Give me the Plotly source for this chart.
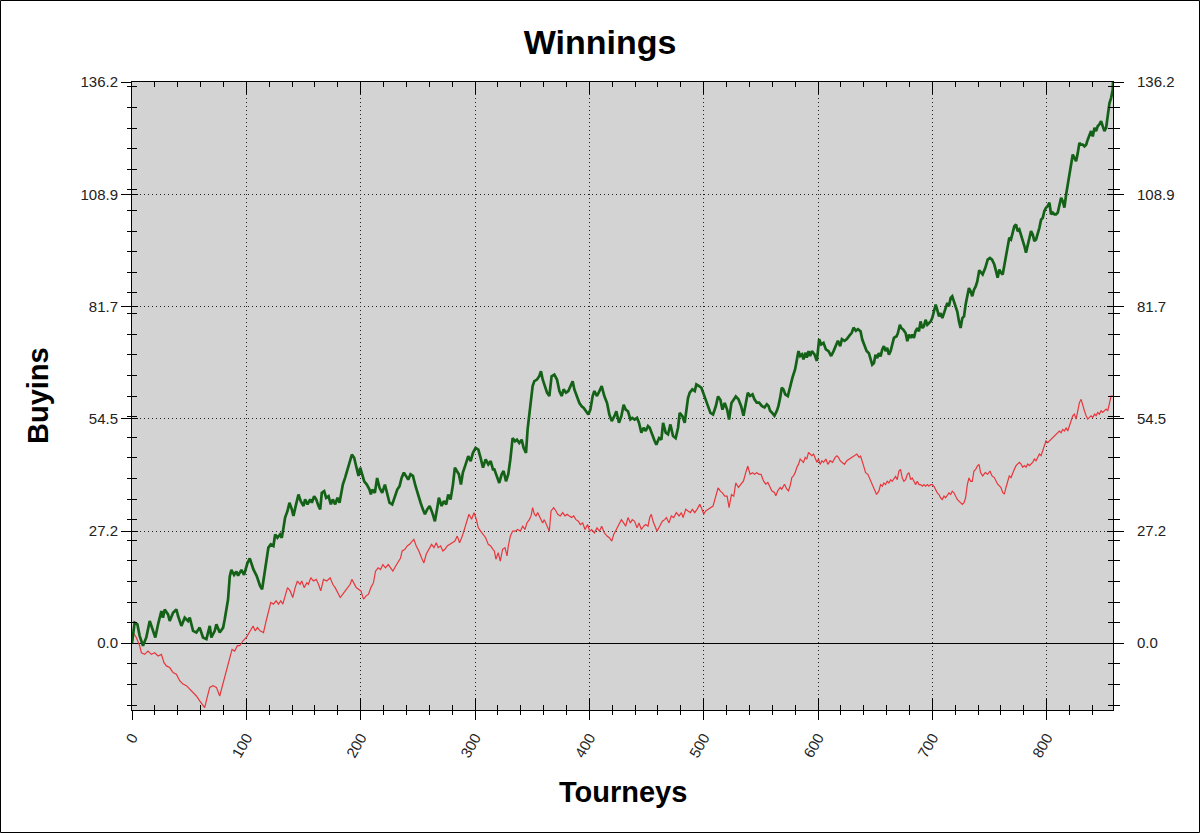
import plotly.graph_objects as go

# Cumulative winnings (buyins), by tourney number
green_t = [0, 0.9, 2.3, 4.7, 6.7, 9.6, 12.5, 15.5, 18.4, 20.4, 22.8, 25.7, 27.1, 28.6, 31.5, 33.0, 35.9, 38.8, 40.3, 43.2,
           46.1, 49.0, 50.5, 53.4, 56.3, 59.2, 62.1, 65.1, 68.0, 69.4, 72.4, 73.8, 76.7, 79.7, 81.1, 84.0, 85.5, 86.9, 89.3, 91.3,
           92.8, 95.7, 98.0, 100.9, 103.0, 106.2, 109.1, 112.0, 113.8, 115.5, 117.9, 119.3, 121.4, 123.7, 125.2, 127.2, 129.5, 131.0, 132.5, 133.9,
           136.0, 137.7, 139.8, 141.2, 143.5, 145.6, 147.6, 150.0, 151.4, 153.5, 155.8, 157.3, 159.3, 161.1, 163.1, 164.6, 166.0, 168.1, 169.8, 171.9,
           173.9, 175.6, 177.7, 179.7, 181.5, 182.6, 184.4, 186.4, 187.9, 190.0, 192.3, 194.3, 196.1, 198.1, 199.6, 201.3, 203.1, 205.4, 207.7, 208.9,
           210.1, 212.4, 214.4, 216.5, 218.8, 221.2, 223.2, 225.2, 227.6, 229.9, 232.0, 234.0, 235.8, 237.8, 239.3, 241.6, 243.6, 245.7, 248.0, 250.3,
           252.4, 254.4, 256.2, 258.2, 260.3, 262.6, 264.9, 267.0, 268.4, 270.8, 272.8, 274.8, 276.6, 278.6, 280.7, 282.4, 284.5, 285.9, 287.7, 289.4,
           291.8, 294.1, 296.2, 298.2, 300.5, 302.9, 304.9, 307.0, 309.3, 311.6, 313.7, 315.7, 316.9, 319.2, 321.2, 323.3, 325.0, 327.1, 329.1, 330.9,
           332.9, 335.0, 336.7, 338.7, 340.8, 342.5, 344.6, 346.0, 347.5, 349.0, 350.4, 351.9, 354.2, 356.2, 357.7, 359.2, 360.6, 363.0, 365.0, 367.0,
           369.4, 371.7, 373.8, 375.8, 377.5, 379.6, 381.6, 383.4, 385.4, 386.9, 389.2, 391.3, 393.3, 395.1, 397.1, 399.1, 400.9, 402.9, 404.4, 406.7,
           408.8, 410.8, 413.1, 415.5, 417.5, 419.6, 421.9, 423.6, 425.9, 428.0, 430.0, 431.8, 433.8, 435.9, 437.6, 439.6, 441.7, 443.4, 445.5, 447.5,
           449.3, 451.3, 452.8, 455.1, 457.2, 458.6, 461.0, 463.0, 464.5, 466.8, 468.8, 470.9, 473.2, 475.5, 477.6, 479.0, 481.4, 483.4, 484.9, 486.3,
           487.8, 490.1, 492.2, 493.6, 496.0, 498.0, 500.1, 501.8, 503.8, 505.9, 508.2, 510.6, 512.6, 514.6, 516.4, 518.4, 520.5, 522.2, 524.3, 526.3,
           528.1, 530.4, 532.7, 534.8, 536.2, 538.6, 540.6, 542.7, 544.4, 546.4, 548.5, 550.8, 553.2, 555.2, 556.7, 558.1, 559.6, 561.9, 564.0, 565.4,
           566.9, 568.3, 569.8, 571.3, 573.6, 575.6, 577.7, 580.0, 581.5, 582.9, 584.4, 585.9, 587.3, 588.8, 590.2, 591.7, 593.1, 594.6, 596.9, 599.0,
           601.0, 602.8, 604.8, 606.9, 609.2, 611.5, 613.6, 615.6, 617.4, 619.4, 620.9, 623.2, 625.2, 627.3, 629.6, 631.1, 633.1, 634.9, 637.2, 638.7,
           640.7, 642.5, 644.5, 646.0, 647.4, 648.9, 650.3, 651.8, 653.2, 654.7, 656.2, 657.6, 659.1, 660.5, 662.0, 663.5, 664.9, 666.4, 668.7, 669.9,
           671.6, 672.8, 674.6, 676.6, 678.1, 679.5, 681.0, 682.4, 683.9, 685.3, 686.8, 688.3, 689.7, 691.2, 692.6, 694.1, 695.6, 697.0, 698.5, 699.9,
           701.4, 702.9, 704.3, 705.8, 707.2, 708.7, 710.2, 711.6, 713.1, 714.5, 716.0, 717.4, 718.9, 720.4, 721.8, 723.3, 724.7, 726.2, 727.7, 729.1,
           730.6, 732.0, 733.5, 734.9, 736.4, 737.9, 739.3, 741.0, 744.0, 746.3, 748.4, 750.4, 752.2, 754.2, 755.7, 757.1, 758.6, 760.0, 761.5, 763.0,
           764.4, 765.9, 767.3, 768.8, 770.3, 771.7, 773.2, 774.6, 776.1, 777.6, 779.0, 780.5, 781.9, 783.4, 784.9, 786.3, 787.8, 789.2, 790.7, 792.1,
           793.6, 795.1, 796.5, 798.0, 799.4, 800.9, 802.4, 803.8, 805.3, 806.7, 808.2, 809.7, 811.1, 812.6, 814.0, 815.5, 817.0, 818.4, 819.9, 821.3,
           822.8, 824.2, 825.7, 827.2, 828.6, 830.1, 831.5, 833.0, 834.5, 835.9, 837.4, 838.8, 840.3, 841.8, 843.2, 844.7, 846.1, 847.6, 849.0, 850.5,
           852.0, 853.4, 854.9, 856.3, 857.8, 858.0]
green_v = [0, 2.2, 5.0, 4.6, 1.8, -0.6, 1.4, 5.4, 3.0, 1.4, 4.6, 7.8, 6.2, 8.2, 7.0, 5.4, 7.4, 8.2, 6.6, 4.2,
           6.2, 5.4, 6.2, 3.0, 2.6, 3.8, 1.4, 1.0, 4.2, 1.4, 3.0, 4.6, 2.6, 3.8, 5.8, 10.6, 16.2, 17.8, 16.6, 17.4,
           16.4, 17.8, 16.6, 19.4, 20.6, 17.9, 16.3, 13.9, 13.1, 15.9, 20.8, 23.2, 24.0, 23.6, 26.4, 25.6, 26.4, 25.6, 28.0, 30.5,
           32.1, 34.1, 32.5, 30.9, 33.7, 36.1, 34.5, 33.3, 34.9, 33.7, 34.9, 34.1, 35.7, 34.9, 33.3, 32.5, 36.5, 36.9, 35.3, 35.7,
           33.7, 34.9, 33.7, 35.3, 34.1, 36.1, 38.5, 40.2, 41.8, 43.8, 45.8, 45.0, 42.6, 40.6, 42.6, 41.0, 39.3, 38.5, 37.3, 36.1,
           37.3, 36.5, 40.1, 37.7, 36.5, 38.5, 36.5, 34.1, 33.7, 35.7, 37.3, 38.1, 40.1, 41.4, 40.6, 39.7, 41.0, 40.6, 38.1, 35.7,
           34.1, 32.5, 31.3, 32.5, 33.3, 31.7, 29.6, 32.9, 35.3, 33.3, 34.5, 33.7, 36.1, 34.9, 38.5, 42.6, 41.8, 41.0, 38.5, 41.4,
           43.4, 45.4, 44.2, 46.2, 47.4, 47.0, 45.0, 42.6, 44.6, 43.4, 44.2, 42.2, 42.2, 40.6, 38.9, 41.0, 41.8, 39.3, 41.0, 44.6,
           49.8, 49.0, 49.4, 48.6, 49.4, 47.4, 46.2, 51.9, 55.9, 58.7, 62.4, 63.6, 64.0, 64.8, 66.0, 64.0, 62.8, 60.8, 60.0, 64.8,
           65.2, 64.0, 61.2, 60.0, 61.6, 60.8, 61.2, 62.4, 63.6, 61.6, 60.0, 58.3, 57.5, 57.1, 56.3, 55.5, 56.7, 60.0, 61.2, 60.0,
           61.2, 62.4, 60.0, 58.3, 55.5, 53.9, 55.1, 56.3, 53.5, 55.1, 57.9, 56.7, 56.3, 54.3, 54.7, 54.3, 54.7, 53.5, 51.1, 52.3,
           51.5, 52.7, 52.3, 50.3, 49.0, 48.2, 49.8, 49.4, 53.5, 51.1, 50.7, 53.1, 50.3, 49.8, 52.3, 55.9, 55.1, 53.5, 57.1, 59.5,
           60.8, 61.6, 61.2, 62.8, 62.4, 62.0, 60.4, 59.1, 57.5, 55.9, 55.5, 57.5, 59.9, 59.1, 56.7, 58.3, 56.7, 54.3, 58.3, 59.1,
           59.9, 59.2, 57.6, 55.2, 57.2, 60.8, 60.0, 60.4, 59.2, 58.4, 58.4, 57.6, 57.2, 58.0, 57.6, 56.4, 56.0, 55.2, 56.4, 57.6,
           59.6, 62.0, 61.6, 60.4, 60.0, 62.4, 64.5, 66.5, 68.5, 70.9, 69.7, 70.1, 68.9, 70.5, 69.3, 70.9, 69.7, 70.9, 70.1, 68.5,
           73.8, 72.5, 72.9, 71.3, 70.9, 69.7, 70.9, 72.1, 73.4, 72.1, 73.8, 73.4, 73.8, 74.6, 75.4, 76.6, 75.8, 76.2, 75.7, 73.7,
           72.1, 70.9, 70.4, 68.8, 67.6, 68.0, 70.0, 69.2, 70.4, 69.6, 71.3, 72.1, 70.9, 71.7, 70.0, 70.9, 72.5, 74.1, 74.5, 75.3,
           77.3, 76.5, 76.1, 75.3, 73.3, 74.9, 74.1, 74.9, 74.1, 75.7, 76.5, 75.7, 78.1, 76.5, 76.9, 78.5, 77.3, 77.7, 78.1, 78.9,
           80.5, 82.2, 80.9, 79.3, 80.1, 78.9, 80.1, 81.4, 82.6, 81.8, 83.8, 84.2, 83.0, 81.4, 80.5, 78.1, 76.5, 78.9, 79.3, 82.2,
           84.6, 86.2, 85.4, 84.2, 85.8, 86.6, 87.8, 90.5, 89.5, 91.1, 93.1, 93.5, 93.1, 91.9, 90.3, 88.7, 90.7, 89.9, 89.5, 91.9,
           94.4, 96.4, 98.4, 98.0, 99.6, 101.2, 101.6, 100.0, 100.4, 99.2, 97.6, 96.4, 94.8, 96.8, 98.4, 100.0, 99.2, 97.6, 98.0, 99.2,
           100.8, 102.8, 103.2, 104.9, 105.7, 106.1, 106.9, 104.1, 104.5, 104.1, 104.1, 104.5, 106.1, 108.1, 107.3, 105.7, 108.9, 111.3, 113.8, 116.2,
           118.6, 117.8, 117.0, 119.0, 121.4, 121.0, 121.0, 120.6, 121.0, 122.2, 123.4, 124.3, 123.0, 125.1, 124.3, 125.5, 125.9, 126.7, 125.5, 124.3,
           125.1, 127.5, 131.1, 132.3, 134.4, 136.2]

red_t = [0, 0.9, 3.8, 6.7, 8.2, 11.1, 14.0, 16.9, 19.8, 22.8, 25.7, 28.0, 30.1, 33.0, 35.9, 38.8, 41.7, 44.6, 47.6, 50.5,
         53.4, 56.3, 59.2, 61.3, 63.6, 65.7, 68.0, 70.9, 73.8, 76.7, 79.7, 82.6, 85.5, 87.5, 89.8, 92.2, 94.2, 97.1, 100.0, 103.0,
         105.9, 107.7, 109.7, 112.0, 115.0, 117.3, 119.3, 121.4, 123.7, 126.0, 128.1, 130.1, 131.9, 133.9, 136.0, 138.3, 140.6, 142.7, 144.7, 147.0,
         148.5, 150.6, 152.9, 154.3, 156.4, 158.7, 161.1, 163.1, 165.1, 167.5, 170.4, 173.3, 175.6, 177.7, 179.7, 182.1, 184.4, 186.4, 188.5, 190.8,
         192.3, 194.3, 196.1, 198.1, 200.2, 202.5, 204.8, 206.9, 208.9, 211.2, 213.0, 215.3, 217.4, 219.4, 221.7, 224.1, 226.1, 228.2, 230.5, 232.8,
         234.9, 236.3, 238.7, 240.7, 242.8, 245.1, 246.5, 248.6, 250.9, 253.3, 255.3, 257.3, 259.7, 262.0, 264.1, 266.1, 267.8, 269.9, 271.9, 273.7,
         275.7, 277.8, 280.1, 282.4, 284.5, 286.5, 288.9, 291.2, 293.2, 294.7, 297.0, 299.1, 301.1, 302.9, 304.9, 307.0, 309.3, 311.6, 313.7, 315.7,
         316.9, 318.3, 320.3, 322.1, 324.1, 326.2, 328.0, 329.1, 330.9, 332.9, 335.0, 337.3, 339.6, 341.7, 343.7, 345.4, 347.5, 349.0, 350.4, 351.9,
         353.3, 354.8, 357.1, 359.2, 360.6, 363.0, 365.0, 366.5, 368.8, 370.8, 372.3, 374.6, 376.7, 378.7, 380.5, 382.5, 384.5, 386.3, 388.3, 390.4,
         392.1, 394.2, 396.2, 398.5, 400.3, 402.0, 404.4, 406.7, 408.8, 410.8, 413.1, 415.5, 417.5, 419.6, 421.3, 423.6, 425.9, 428.0, 430.0, 431.8,
         433.8, 435.9, 437.6, 439.6, 441.7, 443.4, 445.5, 447.5, 449.3, 451.3, 452.8, 454.2, 455.7, 458.0, 459.2, 461.5, 463.9, 465.9, 467.4, 469.7,
         471.7, 473.8, 476.1, 478.5, 480.5, 482.0, 484.3, 486.3, 488.4, 490.1, 492.2, 494.2, 496.6, 498.0, 500.1, 501.8, 503.8, 505.9, 508.2, 510.6,
         512.6, 514.6, 516.4, 518.4, 520.5, 522.2, 524.3, 526.3, 528.1, 530.4, 532.7, 534.8, 536.8, 538.6, 540.6, 542.7, 544.4, 546.4, 548.5, 550.2,
         552.3, 554.3, 556.1, 558.1, 559.6, 561.9, 563.1, 564.8, 566.9, 568.3, 570.7, 572.7, 574.2, 575.6, 577.1, 578.5, 580.0, 581.5, 582.9, 584.4,
         585.9, 587.3, 588.8, 590.2, 591.7, 593.1, 594.6, 596.1, 597.5, 599.0, 600.4, 601.9, 603.4, 604.8, 606.9, 608.6, 610.6, 612.7, 615.0, 616.5,
         617.9, 619.4, 620.9, 623.2, 625.2, 627.3, 629.6, 631.9, 634.0, 636.0, 637.2, 639.5, 641.6, 643.6, 646.0, 647.4, 649.5, 651.2, 653.2, 654.7,
         656.2, 657.6, 659.1, 660.5, 662.0, 663.5, 664.9, 666.4, 667.8, 669.3, 670.8, 672.2, 673.7, 675.1, 676.6, 678.1, 679.5, 681.0, 682.4, 683.9,
         685.3, 686.8, 688.3, 689.7, 691.2, 692.6, 694.1, 695.6, 697.0, 698.5, 699.9, 701.4, 702.9, 704.3, 705.8, 707.2, 708.7, 710.2, 711.6, 713.1,
         714.5, 716.0, 717.4, 718.9, 720.4, 721.8, 723.3, 724.7, 726.2, 727.7, 729.1, 730.6, 732.0, 733.5, 734.9, 736.4, 737.9, 739.3, 740.8, 742.2,
         744.0, 746.3, 748.4, 750.4, 752.2, 754.2, 755.7, 757.1, 758.6, 760.0, 761.5, 763.0, 764.4, 765.9, 767.3, 768.8, 770.3, 771.7, 773.2, 774.6,
         776.1, 777.6, 779.0, 780.5, 781.9, 783.4, 784.9, 786.3, 787.8, 789.2, 790.7, 792.1, 793.6, 795.1, 796.5, 798.0, 799.4, 800.9, 802.4, 803.8,
         805.3, 806.7, 808.2, 809.7, 811.1, 812.6, 814.0, 815.5, 817.0, 818.4, 819.9, 821.3, 822.8, 824.2, 825.7, 827.2, 828.6, 830.1, 831.5, 833.0,
         834.5, 835.9, 837.4, 838.8, 840.3, 841.8, 843.2, 844.7, 846.1, 847.6, 849.0, 850.5, 852.0, 853.4, 854.9, 856.3, 858.0]
red_v = [0, 2.6, 1.4, -0.6, -2.3, -2.7, -1.9, -2.7, -2.3, -3.1, -2.7, -4.7, -5.5, -5.9, -7.1, -7.5, -9.1, -9.9, -10.3, -11.1,
         -12.0, -12.8, -14.0, -14.8, -15.6, -13.2, -10.7, -10.3, -10.7, -12.8, -9.5, -6.3, -3.1, -1.5, -1.9, -0.6, -0.6, 0.6, 1.4, 3.0,
         4.2, 3.0, 3.8, 3.0, 2.6, 5.4, 7.8, 9.9, 9.5, 10.3, 9.5, 10.3, 9.5, 11.5, 13.5, 12.7, 11.1, 13.5, 15.1, 14.3,
         15.1, 13.5, 14.7, 14.3, 15.9, 15.1, 15.5, 14.3, 12.7, 15.5, 15.1, 15.9, 14.3, 13.5, 12.3, 11.1, 11.9, 12.7, 13.5, 14.3,
         15.5, 14.3, 13.5, 13.1, 12.7, 10.7, 11.5, 11.9, 13.5, 14.7, 17.5, 18.3, 17.9, 19.1, 18.3, 19.1, 18.3, 17.5, 18.7, 19.9,
         20.7, 22.4, 22.8, 23.6, 24.0, 24.8, 25.2, 23.6, 22.4, 20.7, 19.5, 21.6, 22.8, 24.0, 23.2, 24.4, 23.2, 23.6, 22.4, 22.8,
         23.6, 24.0, 24.4, 24.8, 26.0, 24.4, 26.0, 28.0, 30.1, 31.3, 30.1, 31.7, 30.1, 28.0, 27.2, 26.4, 25.6, 24.0, 23.6, 22.8,
         22.4, 20.4, 22.0, 19.9, 22.8, 23.2, 21.2, 23.6, 26.0, 27.2, 27.2, 27.6, 27.2, 28.4, 27.6, 29.2, 30.0, 30.9, 32.9, 31.3,
         30.9, 31.7, 30.5, 29.2, 30.0, 28.4, 27.2, 32.1, 32.9, 32.1, 31.3, 30.9, 31.7, 30.9, 31.3, 30.9, 30.5, 30.9, 30.0, 29.6,
         28.8, 29.2, 27.6, 28.8, 27.2, 27.6, 26.8, 28.0, 27.2, 28.4, 26.8, 26.0, 25.6, 24.8, 26.4, 27.6, 28.8, 30.0, 29.2, 28.4,
         30.5, 29.2, 30.0, 29.6, 28.0, 29.2, 27.6, 28.4, 28.8, 28.4, 30.5, 31.3, 29.6, 28.0, 27.2, 28.4, 29.6, 30.0, 30.5, 29.2,
         30.9, 30.5, 31.7, 30.9, 31.7, 30.5, 32.5, 32.1, 31.7, 32.5, 31.7, 32.5, 33.7, 32.9, 31.3, 32.1, 32.5, 32.9, 33.3, 35.7,
         37.7, 36.9, 36.5, 35.7, 35.7, 32.9, 36.1, 35.7, 38.9, 37.8, 38.6, 39.4, 41.4, 43.0, 41.0, 41.4, 41.0, 41.4, 41.0, 41.0,
         39.4, 38.6, 39.0, 37.8, 37.0, 36.6, 35.8, 37.0, 37.8, 37.4, 38.6, 37.4, 37.0, 38.2, 40.2, 40.6, 41.4, 42.7, 43.4, 44.7,
         44.3, 43.9, 45.1, 44.7, 46.3, 45.9, 45.5, 45.9, 44.7, 43.9, 44.7, 43.4, 44.3, 43.9, 44.7, 43.4, 44.3, 43.9, 45.1, 45.5,
         45.1, 44.3, 43.9, 43.4, 44.3, 44.7, 45.1, 45.5, 45.9, 45.1, 45.4, 43.4, 41.4, 41.0, 39.3, 38.5, 37.3, 36.1, 36.9, 38.5,
         38.1, 38.9, 38.5, 39.3, 38.9, 39.7, 39.3, 40.1, 40.5, 39.7, 41.8, 42.2, 40.1, 39.3, 39.7, 41.0, 41.4, 39.7, 40.1, 39.3,
         38.5, 39.3, 38.5, 38.5, 38.1, 38.5, 38.1, 38.5, 38.1, 38.5, 38.5, 38.1, 37.3, 36.5, 36.1, 35.3, 34.9, 35.7, 35.3, 36.1,
         36.5, 36.1, 36.9, 36.5, 35.7, 34.9, 34.5, 34.1, 33.7, 34.1, 35.3, 38.5, 40.1, 39.3, 39.3, 41.8, 42.2, 43.0, 43.4, 41.4,
         40.6, 41.4, 41.0, 41.8, 40.6, 40.2, 39.4, 38.6, 38.2, 37.8, 36.6, 36.2, 37.8, 39.0, 40.6, 40.2, 41.4, 42.2, 43.1, 43.5,
         43.9, 43.5, 42.7, 43.1, 42.7, 43.5, 43.1, 43.5, 43.9, 44.7, 44.3, 45.1, 45.9, 45.5, 46.7, 48.3, 49.1, 48.7, 49.1, 49.5,
         49.9, 50.3, 50.7, 51.1, 51.5, 51.1, 51.9, 51.5, 52.3, 51.5, 52.8, 54.0, 55.2, 55.6, 54.4, 56.4, 58.4, 59.2, 57.6, 56.4,
         55.2, 54.4, 54.8, 55.2, 54.8, 55.6, 55.2, 56.0, 55.6, 56.4, 56.0, 56.4, 56.8, 56.4, 58.8, 60.0, 60.0]

x_ticks = [0, 100, 200, 300, 400, 500, 600, 700, 800]
y_ticks = [0.0, 27.24, 54.48, 81.72, 108.96, 136.2]
y_labels = ["0.0", "27.2", "54.5", "81.7", "108.9", "136.2"]

X_RANGE = [0, 858]
Y_RANGE = [-16.2, 136.2]

FONT = "Liberation Sans, Arial, sans-serif"
tick_font = dict(family=FONT, size=15, color="#222")
GRID_DASH = "1px,3px"

fig = go.Figure()

fig.add_trace(go.Scatter(x=red_t, y=red_v, mode="lines", name="All-in EV",
                         line=dict(color="#e8363c", width=1.2)))
fig.add_trace(go.Scatter(x=green_t, y=green_v, mode="lines", name="Winnings",
                         line=dict(color="#146218", width=2.7)))
# empty traces so the extra tick axes get drawn
fig.add_trace(go.Scatter(x=[None], y=[None], xaxis="x", yaxis="y2", showlegend=False, hoverinfo="skip"))
fig.add_trace(go.Scatter(x=[None], y=[None], xaxis="x2", yaxis="y3", showlegend=False, hoverinfo="skip"))

fig.update_layout(
    width=1200, height=833,
    margin=dict(l=132, r=87, t=82, b=123),
    paper_bgcolor="white",
    plot_bgcolor="#d3d3d3",
    showlegend=False,
    hovermode=False,
    font=dict(family=FONT, color="#222"),
    title=dict(text="<b>Winnings</b>", x=0.5, xref="container", y=1 - 42 / 833, yanchor="middle",
               font=dict(family=FONT, size=34, color="black")),
    xaxis=dict(range=X_RANGE, tickmode="array", tickvals=x_ticks, tickangle=-60,
               ticks="outside", ticklen=9, tickcolor="black", ticklabelstandoff=3,
               minor=dict(tickmode="linear", tick0=0, dtick=20, ticks="outside", ticklen=4, tickcolor="black"),
               showline=True, linecolor="black", linewidth=1, mirror=True,
               showgrid=True, gridcolor="#222", griddash=GRID_DASH, gridwidth=1,
               zeroline=False, tickfont=tick_font),
    xaxis2=dict(range=X_RANGE, overlaying="x", anchor="y3", side="bottom",
                tickmode="array", tickvals=x_ticks, ticks="inside", ticklen=12, tickcolor="black",
                minor=dict(tickmode="linear", tick0=0, dtick=20, ticks="inside", ticklen=5, tickcolor="black"),
                mirror="ticks", showline=False, showticklabels=False, showgrid=False, zeroline=False),
    yaxis=dict(range=Y_RANGE, tickmode="array", tickvals=y_ticks, ticktext=y_labels,
               ticks="outside", ticklen=10, tickcolor="black",
               minor=dict(tickmode="linear", tick0=0, dtick=5, ticks="outside", ticklen=4, tickcolor="black"),
               showline=True, linecolor="black", linewidth=1, mirror=True,
               showgrid=True, gridcolor="#222", griddash=GRID_DASH, gridwidth=1,
               zeroline=True, zerolinecolor="black", zerolinewidth=1, tickfont=tick_font),
    yaxis2=dict(range=Y_RANGE, overlaying="y", side="right", anchor="x",
                tickmode="array", tickvals=y_ticks, ticktext=y_labels,
                ticks="outside", ticklen=10, tickcolor="black", ticklabelstandoff=10,
                minor=dict(tickmode="linear", tick0=0, dtick=5, ticks="outside", ticklen=6, tickcolor="black"),
                showline=False, showgrid=False, zeroline=False, tickfont=tick_font),
    yaxis3=dict(range=Y_RANGE, overlaying="y", side="left", anchor="x2",
                tickmode="array", tickvals=y_ticks, ticks="inside", ticklen=6, tickcolor="black",
                minor=dict(tickmode="linear", tick0=0, dtick=5, ticks="inside", ticklen=5, tickcolor="black"),
                mirror="ticks", showline=False, showticklabels=False, showgrid=False, zeroline=False),
    annotations=[
        dict(text="<b>Buyins</b>", xref="paper", yref="paper", x=(38 - 132) / 981, y=0.5,
             textangle=-90, showarrow=False, font=dict(family=FONT, size=29, color="black"),
             xanchor="center", yanchor="middle"),
        dict(text="<b>Tourneys</b>", xref="paper", yref="paper", x=0.5, y=-(792 - 710) / 628,
             showarrow=False, font=dict(family=FONT, size=29, color="black"),
             xanchor="center", yanchor="middle"),
    ],
    shapes=[
        dict(type="rect", xref="paper", yref="paper",
             x0=(0.5 - 132) / 981, x1=(1199.5 - 132) / 981,
             y0=-(123 - 0.5) / 628, y1=1 + (82 - 0.5) / 628,
             line=dict(color="black", width=1), fillcolor="rgba(0,0,0,0)", layer="below"),
    ],
)

# drop the default page margin so the 1200x833 figure fills the window
fig.write_html("out.html", config={"displayModeBar": False},
               post_script="document.body.style.margin='0px';")
